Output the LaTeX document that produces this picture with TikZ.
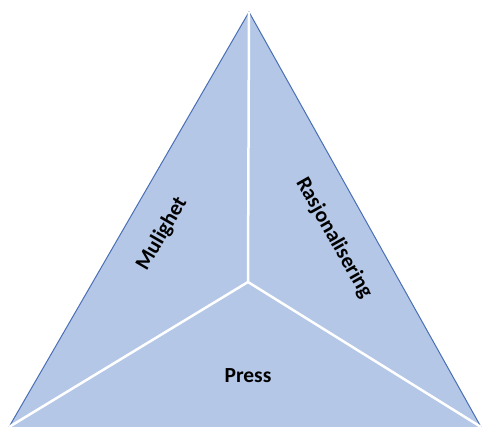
\documentclass[tikz,border=0pt]{standalone}
\usepackage{fontspec}
\setmainfont{Carlito}
\definecolor{fillblue}{HTML}{B4C7E7}
\definecolor{edgeblue}{HTML}{4A6FB5}
\begin{document}
\begin{tikzpicture}[x=1pt,y=1pt,
  lbl/.style={font=\bfseries\fontsize{21.5}{25}\selectfont, text=black, inner sep=0pt}]
\useasboundingbox (0,0) rectangle (482,427);
\coordinate (apex) at (249,415);
\coordinate (bl) at (9,0);
\coordinate (br) at (481,0);
\coordinate (ctr) at (248,145);
\fill[fillblue] (apex) -- (br) -- (bl) -- cycle;
\draw[edgeblue, line width=1pt] (bl) -- (apex) -- (br);
\draw[white, line width=2.5pt] (ctr) -- (apex);
\draw[white, line width=2.5pt] (ctr) -- (bl);
\draw[white, line width=2.5pt] (ctr) -- (br);
\node[lbl, rotate=59.9] (mul) at (162,193) {Mulighet};
\node[lbl, rotate=-60.5] (ras) at (334,189) {Rasjonalisering};
\node[lbl] (press) at (248,51) {Press};
\end{tikzpicture}
\end{document}
